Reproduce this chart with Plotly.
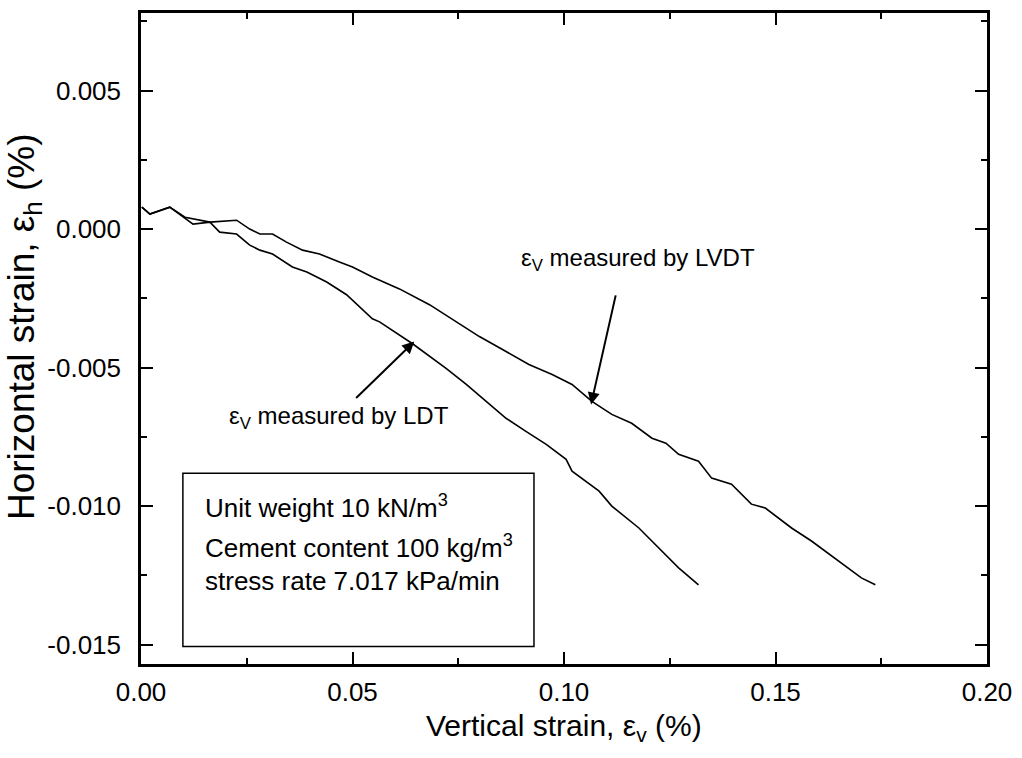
import plotly.graph_objects as go

# LDT-measured vertical strain (%) vs horizontal strain (%)
ldt_ev = [0.0002, 0.0021, 0.0068, 0.0123, 0.0163, 0.0186, 0.0226, 0.0257, 0.0281, 0.0311,
          0.0358, 0.0392, 0.0439, 0.0486, 0.0547, 0.0564, 0.0642, 0.0722, 0.0769, 0.0816,
          0.0863, 0.0910, 0.0958, 0.1005, 0.1019, 0.1083, 0.1113, 0.1177, 0.1224, 0.1271, 0.1318]
ldt_eh = [0.00079, 0.00054, 0.00079, 0.00018, 0.00025, -0.00011, -0.00018, -0.00058, -0.00076, -0.00090,
          -0.00137, -0.00155, -0.00191, -0.00237, -0.00324, -0.00335, -0.00414, -0.00504, -0.00561, -0.00622,
          -0.00683, -0.00730, -0.00777, -0.00831, -0.00874, -0.00946, -0.01000, -0.01079, -0.01151, -0.01223, -0.01284]

# LVDT-measured vertical strain (%) vs horizontal strain (%)
lvdt_ev = [0.0002, 0.0021, 0.0068, 0.0104, 0.0163, 0.0226, 0.0257, 0.0281, 0.0311, 0.0344,
           0.0382, 0.0422, 0.0469, 0.0500, 0.0547, 0.0587, 0.0611, 0.0682, 0.0736, 0.0800,
           0.0863, 0.0917, 0.0972, 0.1019, 0.1066, 0.1113, 0.1160, 0.1208, 0.1241, 0.1271,
           0.1318, 0.1349, 0.1396, 0.1443, 0.1476, 0.1538, 0.1585, 0.1649, 0.1703, 0.1736]
lvdt_eh = [0.00079, 0.00054, 0.00079, 0.00043, 0.00025, 0.00032, 0.00000, -0.00018, -0.00018, -0.00047,
           -0.00076, -0.00090, -0.00119, -0.00137, -0.00173, -0.00201, -0.00216, -0.00273, -0.00327, -0.00388,
           -0.00442, -0.00489, -0.00525, -0.00561, -0.00622, -0.00669, -0.00701, -0.00755, -0.00773, -0.00813,
           -0.00838, -0.00899, -0.00921, -0.00993, -0.01007, -0.01079, -0.01126, -0.01198, -0.01259, -0.01284]

x_ticks = [0.00, 0.05, 0.10, 0.15, 0.20]
x_ticktext = ["0.00", "0.05", "0.10", "0.15", "0.20"]
y_ticks = [0.005, 0.000, -0.005, -0.010, -0.015]
y_ticktext = ["0.005", "0.000", "-0.005", "-0.010", "-0.015"]

x_title = "Vertical strain, ε<sub>v</sub> (%)"
y_title = "Horizontal strain, ε<sub>h</sub> (%)"
box_lines = ["Unit weight 10 kN/m<sup>3</sup>",
             "Cement content 100 kg/m<sup>3</sup>",
             "stress rate 7.017 kPa/min"]

FONT = "Liberation Sans, Arial, Helvetica, sans-serif"

fig = go.Figure()
fig.add_trace(go.Scatter(x=ldt_ev, y=ldt_eh, mode="lines",
                         line=dict(color="black", width=1.6), showlegend=False))
fig.add_trace(go.Scatter(x=lvdt_ev, y=lvdt_eh, mode="lines",
                         line=dict(color="black", width=1.6), showlegend=False))

axis_common = dict(
    showgrid=False, zeroline=False, showline=True, linecolor="black", linewidth=2.5,
    mirror="ticks", ticks="inside", tickcolor="black", tickwidth=2, ticklen=12,
    tickfont=dict(family=FONT, size=26, color="black"),
)

fig.update_xaxes(
    range=[0, 0.20], tickmode="array", tickvals=x_ticks, ticktext=x_ticktext,
    minor=dict(ticks="inside", ticklen=6, tickwidth=2, tickcolor="black", tickmode="linear", tick0=0, dtick=0.025),
    ticklabelstandoff=3,
    **axis_common,
)
fig.update_yaxes(
    range=[-0.0157, 0.0078], tickmode="array", tickvals=y_ticks, ticktext=y_ticktext,
    minor=dict(ticks="inside", ticklen=6, tickwidth=2, tickcolor="black", tickmode="linear", tick0=0, dtick=0.0025),
    ticklabelstandoff=12,
    **axis_common,
)

annotations = [
    # axis titles
    dict(x=0.50, y=-0.098, xref="paper", yref="paper", showarrow=False, xanchor="center", yanchor="middle",
         text=x_title, font=dict(family=FONT, size=30, color="black")),
    dict(x=-0.138, y=0.518, xref="paper", yref="paper", showarrow=False, xanchor="center", yanchor="middle",
         textangle=-90, text=y_title, font=dict(family=FONT, size=37, color="black")),
    # arrows
    dict(x=0.1064, y=-0.00633, ax=0.1123, ay=-0.00234, xref="x", yref="y", axref="x", ayref="y",
         showarrow=True, arrowhead=2, arrowsize=1.2, arrowwidth=2, arrowcolor="black", text=""),
    dict(x=0.0646, y=-0.00406, ax=0.0505, ay=-0.00615, xref="x", yref="y", axref="x", ayref="y",
         showarrow=True, arrowhead=2, arrowsize=1.2, arrowwidth=2, arrowcolor="black", text=""),
    # labels
    dict(x=0.1175, y=-0.0011, xref="x", yref="y", showarrow=False, xanchor="center", yanchor="middle",
         text="ε<sub>V</sub> measured by LVDT", font=dict(family=FONT, size=24, color="black")),
    dict(x=0.0467, y=-0.0068, xref="x", yref="y", showarrow=False, xanchor="center", yanchor="middle",
         text="ε<sub>V</sub> measured by LDT", font=dict(family=FONT, size=24, color="black")),
    # box text
    dict(x=0.0146, y=-0.0100, xref="x", yref="y", showarrow=False, xanchor="left", yanchor="middle",
         text=box_lines[0], font=dict(family=FONT, size=26, color="black")),
    dict(x=0.0146, y=-0.01145, xref="x", yref="y", showarrow=False, xanchor="left", yanchor="middle",
         text=box_lines[1], font=dict(family=FONT, size=26, color="black")),
    dict(x=0.0146, y=-0.01272, xref="x", yref="y", showarrow=False, xanchor="left", yanchor="middle",
         text=box_lines[2], font=dict(family=FONT, size=26, color="black")),
]

fig.update_layout(
    width=1022, height=758,
    margin=dict(l=141, r=32, t=10, b=94),
    paper_bgcolor="white", plot_bgcolor="white",
    font=dict(family=FONT, color="black"),
    annotations=annotations,
    shapes=[dict(type="rect", xref="x", yref="y", x0=0.0099, x1=0.0929, y0=-0.01507, y1=-0.00881,
                 line=dict(color="black", width=1.5))],
)

fig.write_html("out.html")
